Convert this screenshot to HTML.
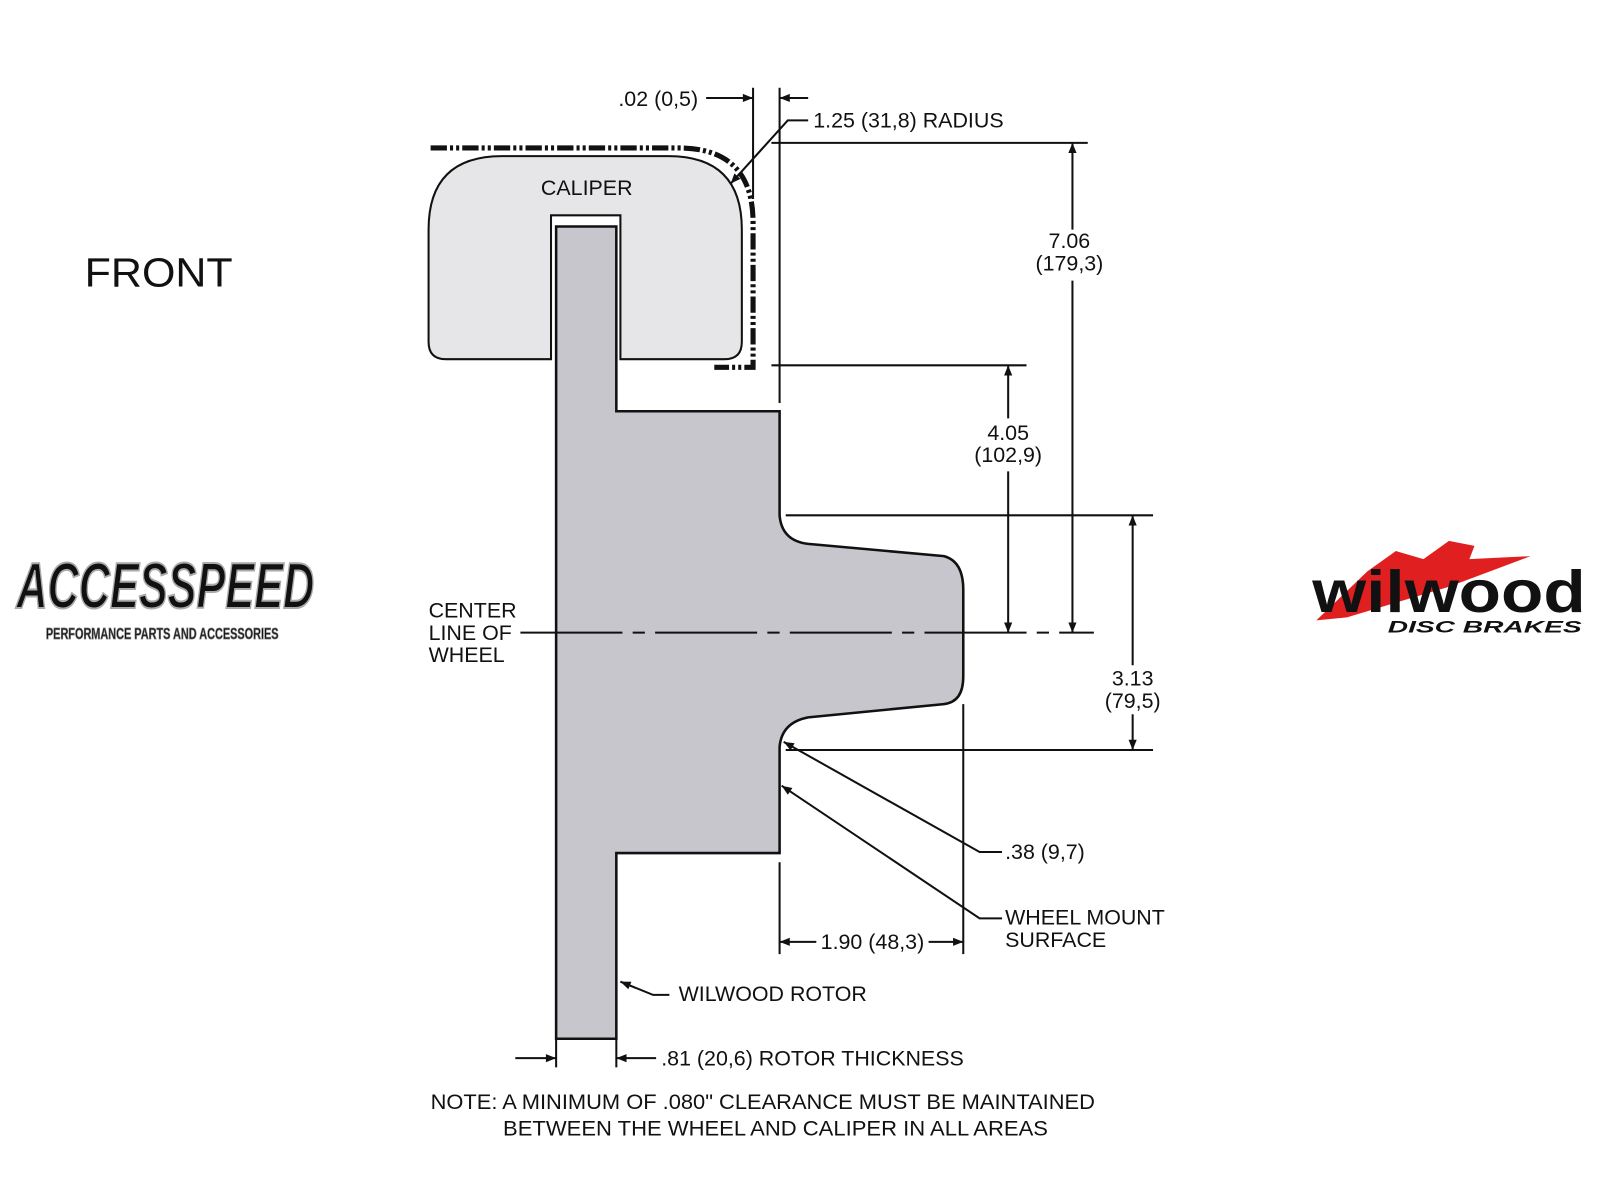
<!DOCTYPE html>
<html><head><meta charset="utf-8"><style>
html,body{margin:0;padding:0;background:#fff;}
svg{display:block;}
text{font-family:"Liberation Sans",Arial,sans-serif;fill:#111;}
</style></head><body>
<svg width="1600" height="1200" viewBox="0 0 1568 1176" xmlns="http://www.w3.org/2000/svg">
<defs>
<marker id="a" viewBox="0 0 10 10" refX="10" refY="5" markerWidth="16" markerHeight="10" markerUnits="userSpaceOnUse" orient="auto"><path d="M0,1 L10,5 L0,9 Z" fill="#111"/></marker>
</defs>
<rect width="1568" height="1176" fill="#fff"/>
<text x="83" y="281" font-size="40" textLength="145" lengthAdjust="spacingAndGlyphs">FRONT</text>

<!-- caliper -->
<path d="M420,335 L420,225 Q420,153 492,153 L655,153 Q727,153 727,225 L727,335 Q727,352 710,352 L608,352 L608,211 L540,211 L540,352 L437,352 Q420,352 420,335 Z" fill="#e6e6e8" stroke="#111" stroke-width="2"/>
<text x="575" y="191" font-size="21" text-anchor="middle">CALIPER</text>

<!-- rotor & hub -->
<path d="M545,222 L604,222 L604,403 L764,403 L764,505 Q766,530 792,533 L925,545 Q944,550 944,578 L944,663 Q944,688 925,690 L792,703 Q766,708 764,732 L764,836 L604,836 L604,1018 L545,1018 Z" fill="#c6c6cc" stroke="#111" stroke-width="2.5"/>

<!-- clearance dash-dot line -->
<path d="M422,145 L665,145 Q738,145 738,218 L738,360 L700,360" fill="none" stroke="#111" stroke-width="5" stroke-dasharray="16,3,3,3,3,3"/>

<!-- top dims -->
<line x1="738" y1="86" x2="738" y2="195" stroke="#111" stroke-width="2"/>
<line x1="764" y1="86" x2="764" y2="395" stroke="#111" stroke-width="2"/>
<line x1="692" y1="96" x2="738" y2="96" stroke="#111" stroke-width="2" marker-end="url(#a)"/>
<line x1="792" y1="96" x2="764" y2="96" stroke="#111" stroke-width="2" marker-end="url(#a)"/>
<text x="606" y="104" font-size="21">.02 (0,5)</text>
<polyline points="792,118 772,118 716,180" fill="none" stroke="#111" stroke-width="2" marker-end="url(#a)"/>
<text x="797" y="125" font-size="21">1.25 (31,8) RADIUS</text>

<line x1="756" y1="140" x2="1066" y2="140" stroke="#111" stroke-width="2"/>
<line x1="756" y1="358" x2="1006" y2="358" stroke="#111" stroke-width="2"/>
<line x1="1051" y1="225" x2="1051" y2="140" stroke="#111" stroke-width="2" marker-end="url(#a)"/>
<line x1="1051" y1="275" x2="1051" y2="620" stroke="#111" stroke-width="2" marker-end="url(#a)"/>
<text x="1048" y="243" font-size="21" text-anchor="middle">7.06</text>
<text x="1048" y="265" font-size="21" text-anchor="middle">(179,3)</text>
<line x1="988" y1="410" x2="988" y2="358" stroke="#111" stroke-width="2" marker-end="url(#a)"/>
<line x1="988" y1="462" x2="988" y2="620" stroke="#111" stroke-width="2" marker-end="url(#a)"/>
<text x="988" y="431" font-size="21" text-anchor="middle">4.05</text>
<text x="988" y="453" font-size="21" text-anchor="middle">(102,9)</text>

<line x1="770" y1="505" x2="1130" y2="505" stroke="#111" stroke-width="2"/>
<line x1="770" y1="735" x2="1130" y2="735" stroke="#111" stroke-width="2"/>
<line x1="1110" y1="652" x2="1110" y2="505" stroke="#111" stroke-width="2" marker-end="url(#a)"/>
<line x1="1110" y1="700" x2="1110" y2="735" stroke="#111" stroke-width="2" marker-end="url(#a)"/>
<text x="1110" y="672" font-size="21" text-anchor="middle">3.13</text>
<text x="1110" y="694" font-size="21" text-anchor="middle">(79,5)</text>

<!-- center line -->
<line x1="510" y1="620" x2="1072" y2="620" stroke="#111" stroke-width="2" stroke-dasharray="100,10,12,10"/>
<text x="420" y="605" font-size="21">CENTER</text>
<text x="420" y="627" font-size="21">LINE OF</text>
<text x="420" y="649" font-size="21">WHEEL</text>

<!-- 1.90 -->
<line x1="944" y1="690" x2="944" y2="935" stroke="#111" stroke-width="2"/>
<line x1="764" y1="845" x2="764" y2="935" stroke="#111" stroke-width="2"/>
<line x1="800" y1="923" x2="764" y2="923" stroke="#111" stroke-width="2" marker-end="url(#a)"/>
<line x1="910" y1="923" x2="944" y2="923" stroke="#111" stroke-width="2" marker-end="url(#a)"/>
<text x="855" y="930" font-size="21" text-anchor="middle">1.90 (48,3)</text>

<polyline points="982,835 960,835 768,727" fill="none" stroke="#111" stroke-width="2" marker-end="url(#a)"/>
<text x="985" y="842" font-size="21">.38 (9,7)</text>
<polyline points="982,900 960,900 766,770" fill="none" stroke="#111" stroke-width="2" marker-end="url(#a)"/>
<text x="985" y="906" font-size="21">WHEEL MOUNT</text>
<text x="985" y="928" font-size="21">SURFACE</text>

<polyline points="656,975 640,975 608,962" fill="none" stroke="#111" stroke-width="2" marker-end="url(#a)"/>
<text x="665" y="981" font-size="21">WILWOOD ROTOR</text>

<line x1="545" y1="1018" x2="545" y2="1046" stroke="#111" stroke-width="2"/>
<line x1="604" y1="1018" x2="604" y2="1046" stroke="#111" stroke-width="2"/>
<line x1="505" y1="1037" x2="545" y2="1037" stroke="#111" stroke-width="2" marker-end="url(#a)"/>
<line x1="643" y1="1037" x2="604" y2="1037" stroke="#111" stroke-width="2" marker-end="url(#a)"/>
<text x="648" y="1044" font-size="21">.81 (20,6) ROTOR THICKNESS</text>

<text x="422" y="1087" font-size="21" textLength="651" lengthAdjust="spacingAndGlyphs">NOTE: A MINIMUM OF .080" CLEARANCE MUST BE MAINTAINED</text>
<text x="493" y="1113" font-size="21" textLength="534" lengthAdjust="spacingAndGlyphs">BETWEEN THE WHEEL AND CALIPER IN ALL AREAS</text>

<!-- ACCESSPEED logo -->
<text x="16" y="596" font-size="64" font-weight="bold" font-style="italic" fill="#111" stroke="#aaa" stroke-width="2" textLength="292" lengthAdjust="spacingAndGlyphs">ACCESSPEED</text>
<text x="45" y="626" font-size="15" font-weight="bold" fill="#333" stroke="#777" stroke-width="0.8" textLength="228" lengthAdjust="spacingAndGlyphs">PERFORMANCE PARTS AND ACCESSORIES</text>

<!-- Wilwood logo -->
<path d="M1290,608 L1340,560 L1368,540 L1395,548 L1420,530 L1445,535 L1440,548 L1500,545 L1420,575 L1370,590 L1320,605 Z" fill="#e02020"/>
<text x="1286" y="600" font-size="58" font-weight="bold" fill="#111" textLength="268" lengthAdjust="spacingAndGlyphs">wilwood</text>
<text x="1360" y="620" font-size="16" font-weight="bold" font-style="italic" fill="#111" textLength="190" lengthAdjust="spacingAndGlyphs">DISC BRAKES</text>
</svg>
</body></html>
